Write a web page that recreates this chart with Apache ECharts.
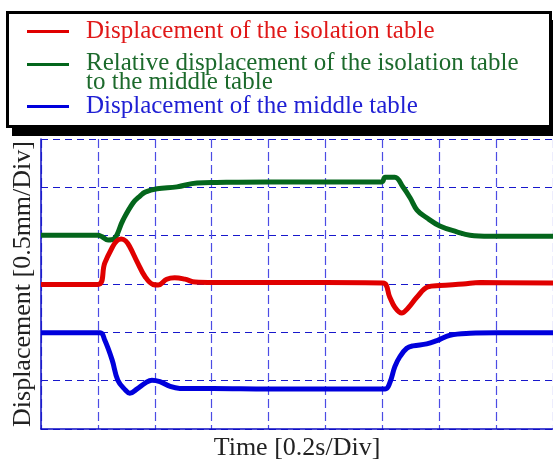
<!DOCTYPE html>
<html>
<head>
<meta charset="utf-8">
<script src="https://cdn.jsdelivr.net/npm/echarts@6/dist/echarts.min.js"></script>
<style>
  html, body { margin: 0; padding: 0; background: #fff; }
  #chart { width: 553px; height: 459px; }
</style>
</head>
<body>
<div id="chart"></div>
<script>
// x: time in divisions (0.2 s/Div), y: displacement in divisions (0.5 mm/Div)
const isoTime = [0, 1.0, 1.12, 1.25, 1.33, 1.41, 1.49, 1.56, 1.69, 1.83, 1.97, 2.06, 2.21, 2.35, 2.53, 2.71, 3.02, 4.0, 5.0, 6.01, 6.13, 6.22, 6.34, 6.45, 6.61, 6.80, 7.01, 7.42, 7.72, 9.0];
const isoDisp = [2.99, 2.99, 3.43, 3.75, 3.89, 3.93, 3.89, 3.77, 3.46, 3.15, 2.99, 2.98, 3.10, 3.13, 3.10, 3.04, 3.03, 3.03, 3.03, 3.02, 2.73, 2.52, 2.40, 2.50, 2.73, 2.94, 2.97, 3.0, 3.03, 3.02];

const relTime = [0, 1.0, 1.07, 1.18, 1.28, 1.44, 1.62, 1.74, 1.83, 2.04, 2.39, 2.74, 3.09, 4.0, 5.0, 5.99, 6.05, 6.22, 6.36, 6.49, 6.61, 6.78, 7.01, 7.31, 7.54, 7.89, 9.0];
const relDisp = [4.01, 4.01, 3.98, 3.91, 3.93, 4.32, 4.68, 4.82, 4.90, 4.97, 5.01, 5.09, 5.10, 5.11, 5.11, 5.11, 5.21, 5.21, 5.01, 4.78, 4.53, 4.37, 4.20, 4.08, 4.01, 3.99, 3.99];

const midTime = [0, 1.04, 1.12, 1.25, 1.35, 1.48, 1.56, 1.69, 1.83, 1.95, 2.09, 2.27, 2.44, 3.02, 4.0, 5.0, 6.05, 6.13, 6.22, 6.31, 6.43, 6.54, 6.78, 6.96, 7.19, 7.54, 8.01, 9.0];
const midDisp = [1.99, 1.99, 1.84, 1.43, 1.01, 0.81, 0.74, 0.83, 0.95, 1.01, 0.98, 0.88, 0.84, 0.84, 0.83, 0.83, 0.83, 0.95, 1.29, 1.50, 1.67, 1.72, 1.76, 1.83, 1.94, 1.98, 1.99, 1.99];

const isoName = 'Displacement of the isolation table';
const relName = 'Relative displacement of the isolation table to the middle table';
const midName = 'Displacement of the middle table';

const RED = '#e00000', GREEN = '#04661c', BLUE = '#0000dc';
const serif = 'Liberation Serif, Times New Roman, serif';

const toPairs = (t, v) => t.map((x, i) => [x, v[i]]);

const chart = echarts.init(document.getElementById('chart'));

function legendFor(name, color, top, extra) {
  return Object.assign({
    data: [name],
    left: 27,
    top: top,
    padding: 0,
    icon: 'rect',
    itemWidth: 42,
    itemHeight: 3,
    selectedMode: false,
    textStyle: {
      color: color,
      fontFamily: serif,
      fontSize: 25,
      lineHeight: 24,
      padding: [0, 0, 0, 12]
    }
  }, extra || {});
}

const option = {
  animation: false,
  backgroundColor: '#fff',
  graphic: [
    { type: 'rect', z: 1, shape: { x: 12, y: 20, width: 545, height: 116 }, style: { fill: '#000' } },
    { type: 'rect', z: 1, shape: { x: 7.5, y: 12.5, width: 543, height: 114 }, style: { fill: '#fff', stroke: '#000', lineWidth: 3 } }
  ],
  legend: [
    legendFor(isoName, '#e01818', 19),
    // line sample sits beside the first of the two text lines
    legendFor(relName, '#1c6a2c', 51, {
      icon: 'path://M0,0h0.01v0.01h-0.01z M0,10h42v3h-42z M0,39.99h0.01v0.01h-0.01z',
      itemHeight: 40,
      formatter: () => 'Relative displacement of the isolation table\nto the middle table',
      textStyle: {
        color: '#1c6a2c', fontFamily: serif, fontSize: 25, lineHeight: 19,
        padding: [0, 0, 0, 12]
      }
    }),
    legendFor(midName, '#2020d4', 94)
  ],
  grid: { left: 41, top: 139, right: 0, bottom: 30, outerBoundsMode: 'none' },
  xAxis: {
    type: 'value', min: 0, max: 9, interval: 1,
    name: 'Time [0.2s/Div]', nameLocation: 'middle', nameGap: 6,
    nameTextStyle: { fontFamily: serif, fontSize: 26, color: '#222' },
    axisLine: { onZero: false, lineStyle: { color: '#0c0cc4', width: 1.5 } },
    axisTick: { show: false },
    axisLabel: { show: false },
    splitLine: { show: true, lineStyle: { color: '#4c4ce4', width: 1.2, type: [9, 4] } }
  },
  yAxis: {
    type: 'value', min: 0, max: 6, interval: 1,
    name: 'Displacement [0.5mm/Div]', nameLocation: 'middle', nameGap: 5,
    nameTextStyle: { fontFamily: serif, fontSize: 26, color: '#222' },
    axisLine: { show: true, onZero: false, lineStyle: { color: '#0c0cc4', width: 1.5 } },
    axisTick: { show: false },
    axisLabel: { show: false },
    splitLine: { show: true, lineStyle: { color: '#1818cc', width: 1.2, type: [7, 5] } }
  },
  series: [
    { name: relName, type: 'line', data: toPairs(relTime, relDisp), showSymbol: false, smooth: 0.4, color: GREEN, lineStyle: { width: 5 } },
    { name: midName, type: 'line', data: toPairs(midTime, midDisp), showSymbol: false, smooth: 0.4, color: BLUE, lineStyle: { width: 5 } },
    { name: isoName, type: 'line', data: toPairs(isoTime, isoDisp), showSymbol: false, smooth: 0.4, color: RED, lineStyle: { width: 5 } }
  ]
};

chart.setOption(option);
</script>
</body>
</html>
